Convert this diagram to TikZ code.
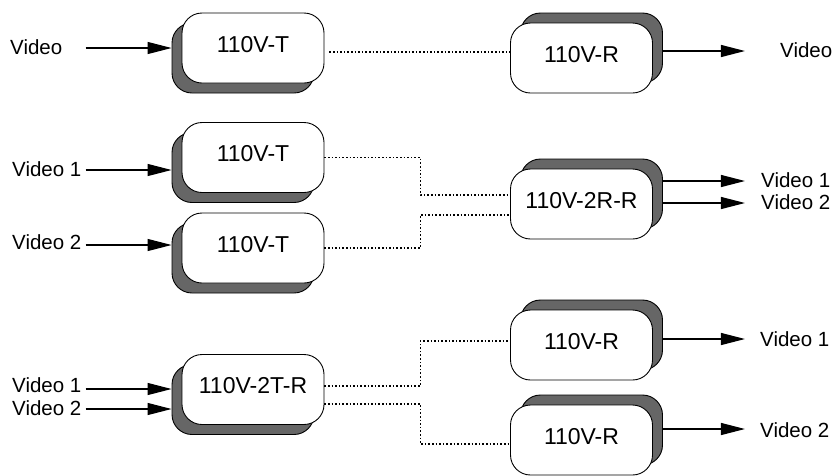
\documentclass[tikz,border=0pt]{standalone}
\usepackage{fontspec}
\setmainfont{Liberation Sans}
\usetikzlibrary{arrows.meta,shadows}

\begin{document}
\begin{tikzpicture}[x=1pt,y=-1pt,>={Triangle[length=24pt,width=12pt]},
    box/.style={draw,line width=0.9pt,fill=white,rounded corners=20pt,minimum width=142pt,minimum height=70pt,text depth=8pt,font=\fontsize{23}{27}\selectfont},
    tbox/.style={box,copy shadow={shadow xshift=-10pt,shadow yshift=-10pt,fill=black!60,draw=black}},
    rbox/.style={box,copy shadow={shadow xshift=10pt,shadow yshift=10pt,fill=black!60,draw=black}},
    lbl/.style={anchor=west,inner sep=0pt,font=\fontsize{20.5}{24}\selectfont},
    sig/.style={line width=1.2pt,->},
    link/.style={line width=1.6pt,dash pattern=on 1.6pt off 2pt}]
    \useasboundingbox (0,0) rectangle (835,475);
    % one to one
    \node[tbox] (t1) at (253,48) {110V-T};
    \node[rbox] (r1) at (581.5,58) {110V-R};
    \node[lbl] (in1) at (10,47) {Video};
    \node[lbl] (out1) at (780,50) {Video};
    \draw[sig] ([xshift=-96pt]t1.west) -- ([xshift=-10pt]t1.west);
    \draw[sig] ([xshift=10pt,yshift=7pt]r1.east) -- ++(82,0);
    \draw[link] ([xshift=5pt,yshift=-4pt]t1.east) -- ([yshift=6pt]r1.west);
    % two to one
    \node[tbox] (t2) at (253,157.5) {110V-T};
    \node[tbox] (t3) at (253,248) {110V-T};
    \node[rbox] (r2) at (581.5,204) {110V-2R-R};
    \node[lbl] (in2a) at (12,169) {Video 1};
    \node[lbl] (in2b) at (12,242) {Video 2};
    \node[lbl] (out2a) at (761,180) {Video 1};
    \node[lbl] (out2b) at (761,202) {Video 2};
    \draw[sig] ([xshift=-96pt,yshift=-12.5pt]t2.west) -- ([xshift=-10pt,yshift=-12.5pt]t2.west);
    \draw[sig] ([xshift=-96pt,yshift=3pt]t3.west) -- ([xshift=-10pt,yshift=3pt]t3.west);
    \draw[sig] ([xshift=10pt,yshift=23pt]r2.east) -- ++(82,0);
    \draw[sig] ([xshift=10pt,yshift=1pt]r2.east) -- ++(82,0);
    \draw[link] (t2.east) -- ++(96,0) |- ([yshift=9pt]r2.west);
    \draw[link] (t3.east) -- ++(96,0) |- ([yshift=-11pt]r2.west);
    % one to two
    \node[tbox] (t4) at (253,389.5) {110V-2T-R};
    \node[rbox] (r3) at (581.5,345) {110V-R};
    \node[rbox] (r4) at (581.5,440) {110V-R};
    \node[lbl] (in3a) at (12,385) {Video 1};
    \node[lbl] (in3b) at (12,408) {Video 2};
    \node[lbl] (out3a) at (760,339) {Video 1};
    \node[lbl] (out3b) at (760,430) {Video 2};
    \draw[sig] ([xshift=-96pt,yshift=0.5pt]t4.west) -- ([xshift=-10pt,yshift=0.5pt]t4.west);
    \draw[sig] ([xshift=-96pt,yshift=-19.5pt]t4.west) -- ([xshift=-10pt,yshift=-19.5pt]t4.west);
    \draw[sig] ([xshift=10pt,yshift=6pt]r3.east) -- ++(82,0);
    \draw[sig] ([xshift=10pt,yshift=11pt]r4.east) -- ++(82,0);
    \draw[link] ([yshift=3.5pt]t4.east) -- ++(96,0) |- ([yshift=4pt]r3.west);
    \draw[link] ([yshift=-14.5pt]t4.east) -- ++(96,0) |- ([yshift=-4pt]r4.west);
\end{tikzpicture}
\end{document}
